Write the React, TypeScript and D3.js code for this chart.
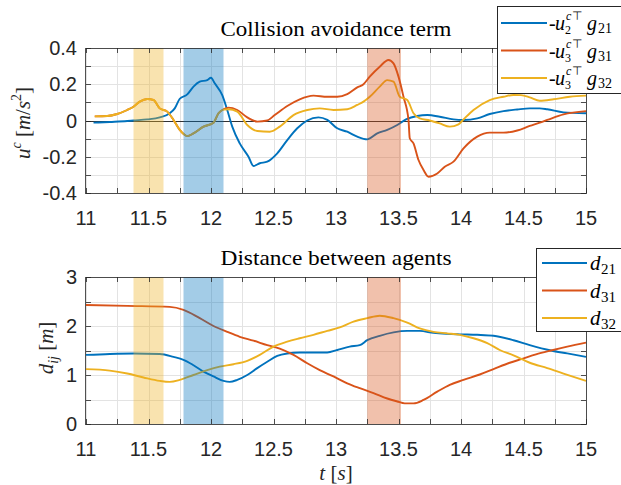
import React from "react";
import * as d3 from "d3";

// tick labels
const xTickLabels = [11, 11.5, 12, 12.5, 13, 13.5, 14, 14.5, 15];
const uTickLabels = [0.4, 0.2, 0, -0.2, -0.4];
const dTickLabels = [0, 1, 2, 3];

// shaded time windows [start, end]
const shadeYellow = [11.38, 11.62];
const shadeBlue = [11.78, 12.1];
const shadeRed = [13.25, 13.52];

// collision avoidance term, [t, u]
const u21: [number, number][] = [
  [11.06, -0.012], [11.19, -0.008], [11.33, -0.003], [11.38, 0], [11.49, 0.006], [11.59, 0.017],
  [11.67, 0.04], [11.71, 0.067], [11.75, 0.12], [11.81, 0.144], [11.86, 0.187], [11.91, 0.214],
  [11.97, 0.223], [12.0, 0.236], [12.03, 0.205], [12.09, 0.14], [12.13, 0.058], [12.17, -0.034],
  [12.23, -0.126], [12.3, -0.2], [12.34, -0.251], [12.39, -0.236], [12.45, -0.227], [12.53, -0.181],
  [12.61, -0.108], [12.69, -0.043], [12.77, 0], [12.86, 0.017], [12.93, 0.003], [13.01, -0.043],
  [13.09, -0.062], [13.17, -0.089], [13.25, -0.104], [13.33, -0.071], [13.41, -0.052], [13.49, -0.025],
  [13.56, 0.006], [13.65, 0.025], [13.73, 0.03], [13.83, 0.021], [13.94, 0.006], [14.02, 0.003],
  [14.13, 0.012], [14.23, 0.036], [14.34, 0.052], [14.45, 0.061], [14.55, 0.067], [14.63, 0.067],
  [14.69, 0.062], [14.82, 0.045], [15.0, 0.04],
];

const u31: [number, number][] = [
  [11.07, 0.023], [11.17, 0.025], [11.25, 0.036], [11.33, 0.058], [11.38, 0.076], [11.43, 0.104],
  [11.49, 0.119], [11.54, 0.113], [11.59, 0.067], [11.65, 0.049], [11.7, 0.003], [11.75, -0.052],
  [11.81, -0.086], [11.86, -0.071], [11.94, -0.034], [12.02, -0.012], [12.06, 0.04], [12.1, 0.062],
  [12.14, 0.071], [12.21, 0.058], [12.29, 0.017], [12.37, -0.006], [12.45, 0], [12.51, 0.03],
  [12.61, 0.08], [12.71, 0.117], [12.82, 0.137], [12.93, 0.131], [13.01, 0.131], [13.09, 0.146],
  [13.17, 0.183], [13.22, 0.2], [13.27, 0.242], [13.35, 0.297], [13.42, 0.334], [13.46, 0.315],
  [13.5, 0.242], [13.54, 0.131], [13.58, 0.003], [13.59, -0.098], [13.62, -0.126], [13.66, -0.218],
  [13.7, -0.273], [13.74, -0.31], [13.81, -0.292], [13.87, -0.255], [13.94, -0.227], [14.02, -0.154],
  [14.13, -0.089], [14.23, -0.067], [14.34, -0.067], [14.45, -0.055], [14.55, -0.03], [14.63, -0.012],
  [14.69, 0.003], [14.82, 0.034], [15.0, 0.052],
];

const u32: [number, number][] = [
  [11.07, 0.023], [11.17, 0.025], [11.25, 0.036], [11.33, 0.058], [11.38, 0.076], [11.43, 0.104],
  [11.49, 0.119], [11.54, 0.113], [11.59, 0.067], [11.65, 0.049], [11.7, 0.003], [11.75, -0.052],
  [11.81, -0.086], [11.86, -0.071], [11.94, -0.034], [12.02, -0.012], [12.06, 0.04], [12.1, 0.06],
  [12.14, 0.062], [12.21, 0.049], [12.29, -0.025], [12.37, -0.058], [12.47, -0.062], [12.55, -0.034],
  [12.66, 0.03], [12.77, 0.058], [12.87, 0.067], [12.98, 0.058], [13.09, 0.062], [13.17, 0.086],
  [13.22, 0.104], [13.27, 0.131], [13.35, 0.187], [13.41, 0.223], [13.46, 0.214], [13.51, 0.131],
  [13.57, 0.113], [13.62, 0.04], [13.67, 0.012], [13.75, 0], [13.83, -0.016], [13.91, -0.034],
  [13.98, -0.021], [14.02, 0.006], [14.1, 0.058], [14.23, 0.113], [14.34, 0.131], [14.42, 0.141],
  [14.48, 0.14], [14.55, 0.128], [14.63, 0.109], [14.74, 0.117], [14.87, 0.131], [15.0, 0.137],
];

// distance between agents, [t, d]
const d21: [number, number][] = [
  [11.0, 1.41], [11.19, 1.43], [11.38, 1.44], [11.59, 1.43], [11.7, 1.37], [11.78, 1.31],
  [11.86, 1.2], [11.94, 1.07], [12.02, 0.97], [12.1, 0.88], [12.15, 0.86], [12.21, 0.9],
  [12.29, 1.0], [12.37, 1.14], [12.45, 1.27], [12.53, 1.39], [12.61, 1.44], [12.71, 1.46],
  [12.82, 1.46], [12.93, 1.46], [13.01, 1.51], [13.11, 1.58], [13.19, 1.61], [13.25, 1.71],
  [13.35, 1.8], [13.46, 1.87], [13.57, 1.9], [13.67, 1.9], [13.78, 1.86], [13.89, 1.84],
  [13.99, 1.83], [14.13, 1.82], [14.26, 1.8], [14.42, 1.71], [14.55, 1.61], [14.72, 1.5],
  [14.85, 1.44], [15.0, 1.37],
];

const d31: [number, number][] = [
  [11.0, 2.43], [11.33, 2.41], [11.67, 2.39], [11.78, 2.33], [11.91, 2.16], [12.02, 2.0],
  [12.13, 1.88], [12.23, 1.78], [12.34, 1.7], [12.45, 1.61], [12.55, 1.54], [12.66, 1.41],
  [12.77, 1.24], [12.87, 1.1], [12.98, 0.97], [13.09, 0.83], [13.19, 0.73], [13.3, 0.63],
  [13.41, 0.52], [13.49, 0.46], [13.55, 0.42], [13.62, 0.42], [13.7, 0.49], [13.81, 0.66],
  [13.91, 0.8], [14.02, 0.9], [14.15, 1.01], [14.26, 1.12], [14.39, 1.25], [14.49, 1.33],
  [14.6, 1.42], [14.72, 1.5], [14.85, 1.58], [15.0, 1.66],
];

const d32: [number, number][] = [
  [11.0, 1.12], [11.19, 1.09], [11.33, 1.03], [11.46, 0.95], [11.59, 0.88], [11.67, 0.86],
  [11.75, 0.9], [11.86, 1.0], [11.97, 1.1], [12.07, 1.17], [12.18, 1.22], [12.29, 1.29],
  [12.39, 1.41], [12.5, 1.58], [12.61, 1.68], [12.71, 1.75], [12.82, 1.82], [12.93, 1.9],
  [13.03, 1.97], [13.14, 2.09], [13.25, 2.16], [13.35, 2.21], [13.46, 2.16], [13.57, 2.07],
  [13.67, 1.95], [13.78, 1.88], [13.89, 1.85], [13.99, 1.82], [14.1, 1.75], [14.21, 1.65],
  [14.31, 1.51], [14.42, 1.4], [14.55, 1.25], [14.69, 1.14], [14.82, 1.03], [15.0, 0.88],
];

const BLUE = "#0072BD";
const RED = "#D95319";
const YELLOW = "#EDB120";
const AXIS = "#262626";
const GRID = "#e3e3e3";
const SANS = "Liberation Sans, Arimo, Arial, sans-serif";
const SERIF = "Liberation Serif, Tinos, DejaVu Serif, serif";

const x = d3.scaleLinear().domain([11, 15]).range([86, 586]);
const xMinor = d3.range(11, 15.001, 0.25);

function Panel({ y0, y1, domain, minor, labels, series, zero, fmt }: any) {
  const y = d3.scaleLinear().domain(domain).range([y1, y0]);
  const line = d3
    .line<[number, number]>()
    .x((d) => x(d[0]))
    .y((d) => y(d[1]))
    .curve(d3.curveMonotoneX);
  const shades = [
    [shadeYellow, YELLOW],
    [shadeBlue, BLUE],
    [shadeRed, RED],
  ] as [number[], string][];
  return (
    <g>
      {xMinor.map((t) => (
        <line key={"gx" + t} x1={Math.round(x(t)) + 0.5} x2={Math.round(x(t)) + 0.5} y1={y0} y2={y1} stroke={GRID} />
      ))}
      {minor.map((v: number) => (
        <line key={"gy" + v} x1={86} x2={586} y1={Math.round(y(v)) + 0.5} y2={Math.round(y(v)) + 0.5} stroke={GRID} />
      ))}
      {zero && <line x1={86} x2={586} y1={Math.round(y(0)) + 0.5} y2={Math.round(y(0)) + 0.5} stroke="#333" strokeWidth={1} />}
      {series.map(([data, color]: any, i: number) => (
        <path key={i} d={line(data) || ""} fill="none" stroke={color} strokeWidth={1.9} strokeLinejoin="round" />
      ))}
      {shades.map(([r, c], i) => (
        <rect key={"s" + i} x={x(r[0])} width={x(r[1]) - x(r[0])} y={y0} height={y1 - y0} fill={c} fillOpacity={0.36} />
      ))}
      {xMinor.map((t) => {
        const px = Math.round(x(t)) + 0.5;
        return (
          <g key={"tx" + t} stroke={AXIS} strokeWidth={0.8}>
            <line x1={px} x2={px} y1={y1} y2={y1 - 5} />
            <line x1={px} x2={px} y1={y0} y2={y0 + 5} />
          </g>
        );
      })}
      {minor.map((v: number) => {
        const py = Math.round(y(v)) + 0.5;
        return (
          <g key={"ty" + v} stroke={AXIS} strokeWidth={0.8}>
            <line x1={86} x2={91} y1={py} y2={py} />
            <line x1={586} x2={581} y1={py} y2={py} />
          </g>
        );
      })}
      <rect x={85.5} y={y0 + 0.5} width={501} height={y1 - y0} fill="none" stroke={AXIS} strokeOpacity={0.8} strokeWidth={1} />
      {labels.map((v: number) => (
        <text key={"ly" + v} x={77} y={y(v)} dy="0.36em" textAnchor="end" style={{ fontFamily: SANS }} fontSize={20} fill={AXIS}>
          {fmt(v)}
        </text>
      ))}
      {xTickLabels.map((t) => (
        <text key={"lx" + t} x={x(t)} y={y1 + 32} textAnchor="middle" style={{ fontFamily: SANS }} fontSize={20} fill={AXIS}>
          {String(t)}
        </text>
      ))}
    </g>
  );
}

function TopLegendRow({ y, color, sub, idx }: any) {
  const b = y + 7;
  return (
    <g>
      <line x1={501} x2={547} y1={y} y2={y} stroke={color} strokeWidth={2} />
      <text style={{ fontFamily: SERIF }} fontSize={20} fill="#000">
        <tspan x={549} y={b}>-</tspan>
        <tspan x={555} y={b} fontStyle="italic">u</tspan>
        <tspan x={566} y={b - 10} fontSize={12} fontStyle="italic">c</tspan>
        <tspan x={572} y={b - 10} fontSize={12} style={{ fontFamily: "DejaVu Sans" }}>⊤</tspan>
        <tspan x={565} y={b + 4} fontSize={12}>{sub}</tspan>
        <tspan x={587} y={b} fontStyle="italic">g</tspan>
        <tspan x={598} y={b + 3} fontSize={14}>{idx}</tspan>
      </text>
    </g>
  );
}

function BotLegendRow({ y, color, idx }: any) {
  const b = y + 7;
  return (
    <g>
      <line x1={542} x2={587} y1={y} y2={y} stroke={color} strokeWidth={2} />
      <text style={{ fontFamily: SERIF }} fontSize={21} fill="#000">
        <tspan x={590} y={b} fontStyle="italic">d</tspan>
        <tspan x={601} y={b + 4} fontSize={15}>{idx}</tspan>
      </text>
    </g>
  );
}

export default function App() {
  return (
    <svg width={621} height={485} style={{ position: "absolute", left: 0, top: 0, background: "#fff" }}>
      <rect width={621} height={485} fill="#fff" />
      <Panel
        y0={48}
        y1={193}
        domain={[-0.4, 0.4]}
        minor={d3.range(-4, 5).map((k) => k / 10)}
        labels={uTickLabels}
        series={[[u21, BLUE], [u31, RED], [u32, YELLOW]]}
        zero={true}
        fmt={(v: number) => (v === 0 ? "0" : String(v))}
      />
      <Panel
        y0={277}
        y1={424}
        domain={[0, 3]}
        minor={d3.range(0, 7).map((k) => k / 2)}
        labels={dTickLabels}
        series={[[d21, BLUE], [d31, RED], [d32, YELLOW]]}
        zero={false}
        fmt={(v: number) => String(v)}
      />

      <text x={336} y={36} textAnchor="middle" style={{ fontFamily: SERIF }} fontSize={21} textLength={231} lengthAdjust="spacingAndGlyphs">
        Collision avoidance term
      </text>
      <text x={336} y={265} textAnchor="middle" style={{ fontFamily: SERIF }} fontSize={21} textLength={231} lengthAdjust="spacingAndGlyphs">
        Distance between agents
      </text>

      <g transform="translate(30,123) rotate(-90)">
        <text textAnchor="middle" style={{ fontFamily: SERIF }} fontSize={21} fill="#262626">
          <tspan fontStyle="italic">u</tspan>
          <tspan fontSize={14} fontStyle="italic" dy={-9}>c</tspan>
          <tspan dy={9}> [</tspan>
          <tspan fontStyle="italic">m</tspan>
          <tspan>/</tspan>
          <tspan fontStyle="italic">s</tspan>
          <tspan fontSize={14} dy={-9}>2</tspan>
          <tspan dy={9}>]</tspan>
        </text>
      </g>
      <g transform="translate(53,348) rotate(-90)">
        <text textAnchor="middle" style={{ fontFamily: SERIF }} fontSize={21} fill="#262626">
          <tspan fontStyle="italic">d</tspan>
          <tspan fontSize={14} fontStyle="italic" dy={5}>ij</tspan>
          <tspan dy={-5}> [</tspan>
          <tspan fontStyle="italic">m</tspan>
          <tspan>]</tspan>
        </text>
      </g>
      <text x={336} y={480} textAnchor="middle" style={{ fontFamily: SERIF }} fontSize={21} fill="#262626">
        <tspan fontStyle="italic">t</tspan>
        <tspan> [</tspan>
        <tspan fontStyle="italic">s</tspan>
        <tspan>]</tspan>
      </text>

      <rect x={497.5} y={6.5} width={140} height={87} fill="#fff" stroke={AXIS} strokeWidth={1} />
      <TopLegendRow y={23} color={BLUE} sub="2" idx="21" />
      <TopLegendRow y={50.5} color={RED} sub="3" idx="31" />
      <TopLegendRow y={78} color={YELLOW} sub="3" idx="32" />

      <rect x={536.5} y={248.5} width={100} height={83} fill="#fff" stroke={AXIS} strokeWidth={1} />
      <BotLegendRow y={263} color={BLUE} idx="21" />
      <BotLegendRow y={290.5} color={RED} idx="31" />
      <BotLegendRow y={318} color={YELLOW} idx="32" />
    </svg>
  );
}
